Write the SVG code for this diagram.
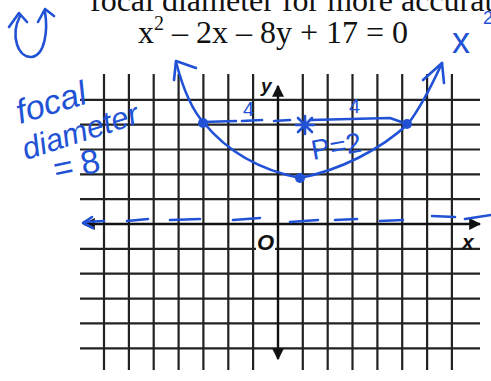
<svg xmlns="http://www.w3.org/2000/svg" width="491" height="381" viewBox="0 0 491 381">
<style>
.grid{stroke:#222;stroke-width:2.2;fill:none}
.axis{stroke:#111;stroke-width:2.4;fill:none}
.ink{stroke:#2152d6;stroke-width:2.6;fill:none;stroke-linecap:round;stroke-linejoin:round}
.inkt{fill:#2152d6;font-family:"Liberation Sans","DejaVu Sans",sans-serif}
.print{fill:#111;font-family:"Liberation Serif","DejaVu Serif",serif;font-size:32px}
.lab{fill:#111;font-family:"Liberation Sans","DejaVu Sans",sans-serif;font-weight:bold;font-style:italic}
</style>
<defs>
<marker id="ah" viewBox="0 0 10 10" refX="9" refY="5" markerWidth="5" markerHeight="5" orient="auto-start-reverse">
<path d="M0 0 L10 5 L0 10 Z" fill="#111"/>
</marker>
</defs>
<rect width="491" height="381" fill="#fff"/>
<text class="print" x="90" y="11">focal diameter for more accurate</text>
<text class="print" x="138" y="43">x<tspan font-size="20" dy="-13">2</tspan><tspan dy="13"> – 2x – 8y + 17 = 0</tspan></text>
<g id="grid">
<path class="grid" d="M80 99.8H480M80 124.6H480M80 149.5H480M80 174.3H480M80 199.2H480M80 248.9H480M80 273.7H480M80 298.6H480M80 323.4H480M80 348.3H480"/>
<path class="grid" d="M104 74V370M128.9 74V370M153.7 74V370M178.6 74V370M203.4 74V370M228.3 74V370M253.1 74V370M302.8 74V370M327.7 74V370M352.5 74V370M377.4 74V370M402.2 74V370M427.1 74V370M451.9 74V370"/>
</g>
<g id="axes">
<line class="axis" x1="84" y1="224" x2="480" y2="224" marker-start="url(#ah)" marker-end="url(#ah)"/>
<line class="axis" x1="278" y1="86" x2="278" y2="359" marker-start="url(#ah)" marker-end="url(#ah)"/>
<rect x="256" y="231" width="19" height="21" fill="#fff"/>
<text class="lab" x="257" y="250" font-size="22">O</text>
<text class="lab" x="462" y="249" font-size="21">x</text>
<text class="lab" x="261" y="92" font-size="19">y</text>
</g>
<g id="directrix">
<path class="ink" stroke-width="3.2" d="M84 222L104 221M127 221L148 219M170 220L200 219M233 220L260 218M290 222L318 220M335 220L357 219M380 221L403 220M432 216L455 217M465 219L491 215"/>
<path class="ink" d="M92 217L83 223L93 228"/>
</g>
<g id="parabola">
<path class="ink" d="M176 62C182 85 190 108 204 123C222 145 250 168 300 178C340 170 380 150 408 124C420 108 432 85 442 63"/>
<path class="ink" d="M174 80L176 61L196 68"/>
<path class="ink" d="M423 80L442 63L444 83"/>
<circle cx="203" cy="123" r="5" fill="#2152d6"/>
<circle cx="407" cy="124" r="5" fill="#2152d6"/>
<circle cx="300" cy="178" r="5" fill="#2152d6"/>
</g>
<g id="latus">
<path class="ink" d="M203 122L236 121M242 121L262 120M274 121L290 120M310 120L390 118L407 124"/>
<path class="ink" d="M298 118L312 132M312 118L298 132M296 125L314 125M305 116L305 134"/>
<text class="inkt" x="243" y="116" font-size="20">4</text>
<text class="inkt" x="349" y="113" font-size="20">4</text>
<text class="inkt" x="313" y="160" font-size="28" transform="rotate(-10 313 160)">P=2</text>
</g>
<g id="notes">
<text class="inkt" x="20" y="124" font-size="34" font-style="italic" transform="rotate(-17 20 124)">focal</text>
<text class="inkt" x="26" y="160" font-size="31" font-style="italic" transform="rotate(-18 26 160)">diameter</text>
<text class="inkt" x="56" y="181" font-size="34" letter-spacing="8" transform="rotate(-12 56 181)">=8</text>
<path class="ink" d="M20 16C10 36 18 58 32 57C45 55 48 30 45 12"/>
<path class="ink" d="M9 27L19 13L27 22"/>
<path class="ink" d="M38 22L45 9L54 16"/>
<text class="inkt" x="452" y="53" font-size="36">x</text>
<text class="inkt" x="483" y="24" font-size="18">2</text>
</g>
</svg>
